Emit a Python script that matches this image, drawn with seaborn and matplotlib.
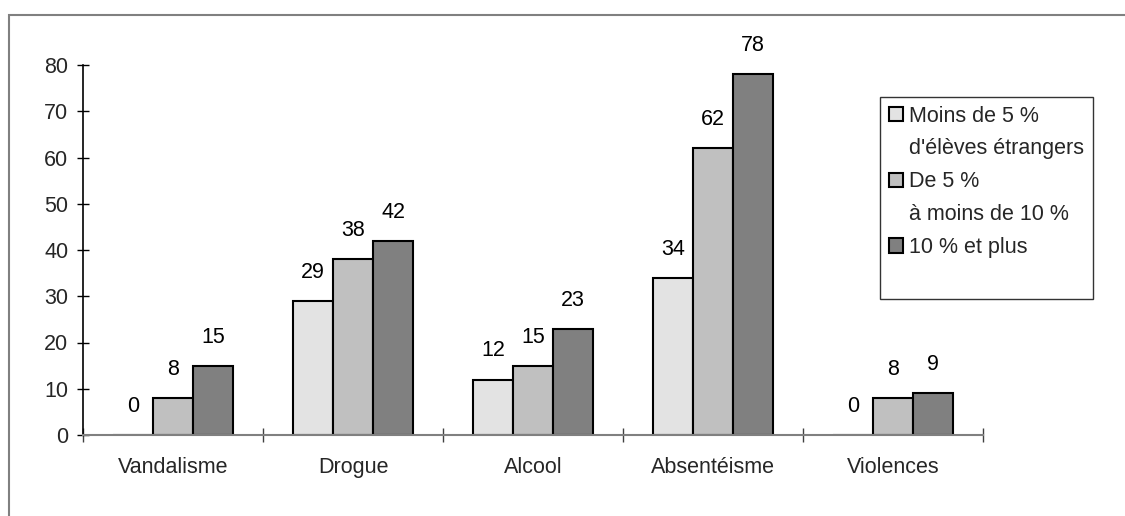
import matplotlib
matplotlib.use("Agg")
import matplotlib.pyplot as plt
from matplotlib.patches import Patch, Rectangle
import seaborn as sns
import pandas as pd

categories = ["Vandalisme", "Drogue", "Alcool", "Absentéisme", "Violences"]
groups = ["Moins de 5 % d'élèves étrangers", "De 5 % à moins de 10 %", "10 % et plus"]
vals_low = [0, 29, 12, 34, 0]
vals_mid = [8, 38, 15, 62, 8]
vals_high = [15, 42, 23, 78, 9]
colors = ["#E3E3E3", "#C0C0C0", "#808080"]
yticks = [0, 10, 20, 30, 40, 50, 60, 70, 80]

rows = []
for g, vals in zip(groups, [vals_low, vals_mid, vals_high]):
    for c, v in zip(categories, vals):
        rows.append({"cat": c, "grp": g, "val": v})
df = pd.DataFrame(rows)

sns.set_theme(style="white")
plt.rcParams["font.family"] = ["Liberation Sans", "DejaVu Sans"]
FS = 15.5

fig = plt.figure(figsize=(11.25, 5.16), dpi=100)
ax = fig.add_axes([83 / 1125, 81 / 516, 900 / 1125, 370 / 516])

sns.barplot(data=df, x="cat", y="val", hue="grp", order=categories,
            hue_order=groups, palette=colors, width=2 / 3, edgecolor="black",
            linewidth=1.5, saturation=1, legend=False, ax=ax, errorbar=None)

for cont in ax.containers:
    ax.bar_label(cont, fmt="%g", padding=13, fontsize=FS, color="black")

ax.set_xlim(-0.5, 4.5)
ax.set_ylim(0, 80)
ax.set_yticks(yticks)
ax.set_xlabel("")
ax.set_ylabel("")

# category boundary ticks (major) and centred labels (minor)
ax.set_xticks([-0.5, 0.5, 1.5, 2.5, 3.5, 4.5])
ax.set_xticklabels([])
ax.set_xticks(range(len(categories)), minor=True)
ax.set_xticklabels(categories, minor=True, fontsize=FS)
ax.tick_params(axis="x", which="major", direction="inout", length=10, width=1,
               color="#404040", bottom=True)
ax.tick_params(axis="x", which="minor", length=0, pad=16, bottom=True)
ax.tick_params(axis="y", direction="inout", length=9, width=1, color="black",
               labelsize=FS, pad=6, left=True)

for s in ["top", "right"]:
    ax.spines[s].set_visible(False)
ax.spines["left"].set_color("black")
ax.spines["left"].set_linewidth(1.2)
ax.spines["bottom"].set_color("#808080")
ax.spines["bottom"].set_linewidth(1.5)

# legend: each handle aligned to the first line of its label
blank = Patch(facecolor="none", edgecolor="none")
handles = [
    Patch(facecolor=colors[0], edgecolor="black", linewidth=1.5), blank,
    Patch(facecolor=colors[1], edgecolor="black", linewidth=1.5), blank,
    Patch(facecolor=colors[2], edgecolor="black", linewidth=1.5), blank,
]
labels = ["Moins de 5 %", "d'élèves étrangers", "De 5 %", "à moins de 10 %",
          "10 % et plus", " "]
leg = fig.legend(handles, labels, loc="upper left",
                 bbox_to_anchor=(880 / 1125, 1 - 97 / 516), fontsize=FS,
                 frameon=True, fancybox=False, edgecolor="black",
                 handlelength=0.65, handleheight=0.65, handletextpad=0.3,
                 labelspacing=0.55, borderpad=0.4, borderaxespad=0)
leg.get_frame().set_linewidth(1.0)

# outer chart frame
fig.patches.append(Rectangle((9 / 1125, -0.2), 1.5, 1.2 - 15 / 516,
                             transform=fig.transFigure, fill=False,
                             edgecolor="#808080", linewidth=1.5))

fig.savefig("out.png", dpi=100)
